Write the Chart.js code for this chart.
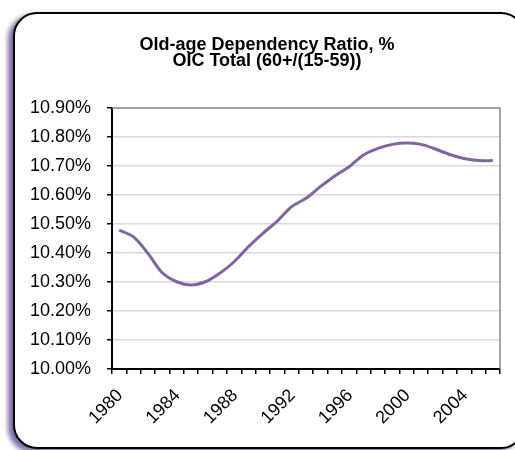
<!DOCTYPE html>
<html>
<head>
<meta charset="utf-8">
<script src="https://cdn.jsdelivr.net/npm/chart.js@4/dist/chart.umd.min.js"></script>
<style>
  html, body { margin: 0; padding: 0; background: #fff; }
  #wrap { position: relative; width: 515px; height: 450px; overflow: hidden; background: #fff; }
  #frame {
    position: absolute; left: 13px; top: 12px; width: 508px; height: 433px;
    border: 2px solid #000; border-radius: 24px; background: #fff;
    box-shadow: -5px 3px 5px rgba(90, 70, 140, 0.8);
  }
  #c { position: absolute; left: 0; top: 0; }
</style>
</head>
<body>
<div id="wrap">
  <div id="frame"></div>
  <canvas id="c" width="515" height="450"></canvas>
</div>
<script>
const titleLines = ['Old-age Dependency Ratio, %', 'OIC Total (60+/(15-59))'];
const years = ['1980','1981','1982','1983','1984','1985','1986','1987','1988','1989','1990','1991','1992','1993','1994','1995','1996','1997','1998','1999','2000','2001','2002','2003','2004','2005','2006'];
const ratioPct = [10.479, 10.456, 10.399, 10.332, 10.301, 10.290, 10.301, 10.330, 10.370, 10.422, 10.468, 10.510, 10.560, 10.589, 10.629, 10.666, 10.698, 10.738, 10.761, 10.775, 10.780, 10.775, 10.759, 10.740, 10.726, 10.719, 10.719];
const yMin = 10.0, yMax = 10.9, yStep = 0.1;
const labelEvery = 4;

Chart.defaults.color = '#000';
Chart.defaults.font.family = '"Liberation Sans", Arial, sans-serif';

const plotBorder = {
  id: 'plotBorder',
  beforeDatasetsDraw(chart) {
    const {ctx, chartArea: a} = chart;
    ctx.save();
    ctx.strokeStyle = '#8a8a8a';
    ctx.lineWidth = 1.5;
    ctx.beginPath();
    ctx.moveTo(a.left, a.top);
    ctx.lineTo(a.right, a.top);
    ctx.lineTo(a.right, a.bottom);
    ctx.stroke();
    ctx.restore();
  }
};

new Chart(document.getElementById('c'), {
  type: 'line',
  data: {
    labels: years,
    datasets: [{
      data: ratioPct,
      borderColor: '#8064A2',
      borderWidth: 3,
      pointRadius: 0,
      tension: 0.3,
      fill: false
    }]
  },
  options: {
    responsive: false,
    animation: false,
    devicePixelRatio: 1,
    layout: { padding: { left: 20, right: 1, top: 12, bottom: 0 } },
    plugins: {
      legend: { display: false },
      tooltip: { enabled: false },
      title: {
        display: true,
        text: titleLines,
        color: '#000',
        font: { size: 18, weight: 'bold', lineHeight: 0.92 },
        padding: { top: 24.5, bottom: 38.5 }
      }
    },
    scales: {
      x: {
        type: 'category',
        offset: true,
        grid: {
          display: true, drawOnChartArea: false, drawTicks: true,
          tickLength: 5, tickColor: '#000', offset: true, lineWidth: 1.5
        },
        border: { color: '#000', width: 2 },
        ticks: {
          autoSkip: false, minRotation: 45, maxRotation: 45,
          font: { size: 18 }, color: '#000', padding: 11, labelOffset: 1,
          callback: function(v, i) {
            const y = parseInt(years[i], 10);
            return ((y - 1980) % labelEvery === 0) ? years[i] : '';
          }
        },
        afterFit: function(s) { s.height = 81; s.paddingRight = 0; s.paddingLeft = 0; }
      },
      y: {
        min: yMin, max: yMax,
        grid: { color: '#d9d9d9', lineWidth: 1.5, tickColor: '#000', tickLength: 5, drawTicks: true },
        border: { color: '#000', width: 2 },
        ticks: {
          stepSize: yStep, font: { size: 18 }, color: '#000', padding: 16,
          callback: function(v) { return v.toFixed(2) + '%'; }
        },
        afterFit: function(s) { s.width = 92; }
      },
      yRightSpacer: {
        position: 'right',
        display: true,
        grid: { display: false, drawTicks: false },
        border: { display: false },
        ticks: { display: false },
        afterFit: function(s) { s.width = 14; }
      }
    }
  },
  plugins: [plotBorder]
});
</script>
</body>
</html>
